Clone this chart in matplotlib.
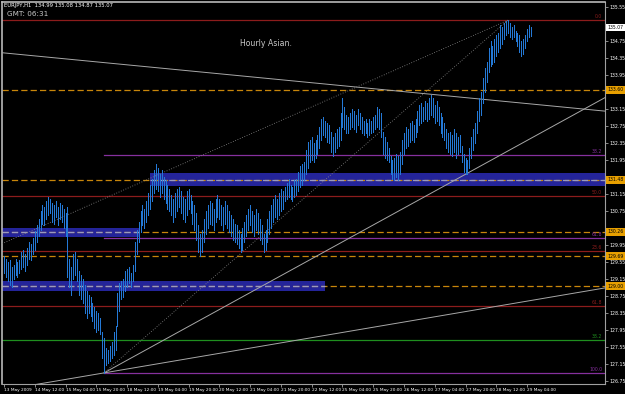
import matplotlib
matplotlib.use('Agg')
import matplotlib.pyplot as plt
from matplotlib.transforms import blended_transform_factory

# ---------------- data ----------------
header_text = "EURJPY,H1  134.99 135.08 134.87 135.07"
clock_text = "GMT: 06:31"
note_text = "Hourly Asian."

highs = [
    129.68, 129.63, 129.54, 129.59, 129.44, 129.49, 129.63, 129.54, 129.59, 129.78,
    129.83, 129.73, 129.88, 130.02, 129.97, 130.12, 130.27, 130.41, 130.55, 130.75,
    130.89, 130.84, 130.99, 131.08, 131.03, 130.94, 130.89, 130.99, 130.84, 130.94,
    130.89, 130.79, 130.70, 130.84, 129.63, 129.44, 129.73, 129.78, 129.63, 129.34,
    129.25, 129.15, 129.01, 128.87, 128.77, 128.72, 128.58, 128.48, 128.39, 128.34,
    128.24, 127.91, 127.76, 127.52, 127.47, 127.57, 127.66, 127.91, 128.05, 128.82,
    129.06, 129.11, 129.15, 129.34, 129.39, 129.44, 129.30, 129.49, 130.02, 130.31,
    130.50, 130.75, 130.89, 130.79, 130.99, 131.18, 131.37, 131.51, 131.71, 131.85,
    131.76, 131.61, 131.71, 131.56, 131.47, 131.37, 131.27, 131.13, 131.03, 131.18,
    131.27, 131.32, 131.23, 131.08, 131.03, 131.23, 131.27, 131.13, 130.99, 130.89,
    130.70, 130.41, 130.22, 130.31, 130.55, 130.75, 130.89, 130.99, 130.94, 130.79,
    131.03, 131.13, 131.03, 130.89, 130.84, 130.99, 130.89, 130.75, 130.65, 130.55,
    130.45, 130.41, 130.31, 130.22, 130.36, 130.50, 130.65, 130.79, 130.89, 130.75,
    130.65, 130.79, 130.70, 130.55, 130.41, 130.22, 130.31, 130.55, 130.75, 130.89,
    131.03, 131.13, 131.03, 131.18, 131.27, 131.23, 131.32, 131.42, 131.51, 131.37,
    131.32, 131.47, 131.51, 131.66, 131.80, 131.85, 131.90, 132.19, 132.38, 132.43,
    132.48, 132.34, 132.43, 132.53, 132.72, 132.91, 132.96, 132.87, 132.82, 132.77,
    132.62, 132.48, 132.58, 132.67, 132.72, 133.06, 133.40, 133.20, 133.01, 132.96,
    133.06, 133.15, 133.10, 133.01, 133.15, 133.06, 132.96, 132.87, 132.91, 132.82,
    132.91, 132.87, 132.96, 133.01, 133.20, 133.15, 133.06, 132.62, 132.48, 132.38,
    132.24, 132.04, 131.95, 132.00, 132.09, 132.04, 132.14, 132.43, 132.58, 132.72,
    132.67, 132.82, 132.87, 132.77, 132.91, 133.10, 133.25, 133.30, 133.20, 133.35,
    133.30, 133.40, 133.49, 133.40, 133.25, 133.35, 133.20, 133.06, 132.96, 132.82,
    132.67, 132.58, 132.62, 132.53, 132.67, 132.58, 132.48, 132.53, 132.29, 132.09,
    132.00, 131.95, 132.24, 132.48, 132.67, 132.82, 133.10, 133.40, 133.54, 133.88,
    134.11, 134.26, 134.59, 134.74, 134.64, 134.79, 134.88, 134.93, 135.12, 135.08,
    135.17, 135.22, 135.24, 135.17, 135.08, 135.12, 134.98, 134.93, 134.88, 134.74,
    134.79, 134.88, 135.03, 135.12, 135.08,
]
lows = [
    129.30, 129.20, 129.11, 129.01, 128.96, 129.15, 129.25, 129.20, 129.30, 129.39,
    129.44, 129.34, 129.49, 129.63, 129.59, 129.73, 129.83, 130.02, 130.17, 130.31,
    130.45, 130.41, 130.55, 130.65, 130.70, 130.50, 130.45, 130.60, 130.41, 130.55,
    130.50, 130.36, 130.17, 129.20, 128.96, 128.77, 129.15, 129.25, 129.11, 128.77,
    128.67, 128.58, 128.34, 128.24, 128.34, 128.29, 128.15, 128.00, 127.91, 127.95,
    127.86, 127.28, 126.94, 127.13, 127.18, 127.23, 127.28, 127.37, 127.47, 128.05,
    128.39, 128.67, 128.72, 128.87, 128.96, 129.06, 128.96, 129.11, 129.34, 129.73,
    130.02, 130.26, 130.41, 130.36, 130.50, 130.65, 130.79, 130.99, 131.18, 131.27,
    131.23, 131.08, 131.18, 131.03, 130.94, 130.79, 130.74, 130.65, 130.50, 130.60,
    130.74, 130.84, 130.70, 130.55, 130.50, 130.65, 130.79, 130.70, 130.45, 130.31,
    130.07, 129.78, 129.68, 129.78, 130.02, 130.22, 130.36, 130.45, 130.41, 130.31,
    130.50, 130.60, 130.55, 130.41, 130.31, 130.45, 130.36, 130.26, 130.17, 130.07,
    130.02, 129.97, 129.88, 129.78, 129.83, 130.02, 130.17, 130.31, 130.41, 130.26,
    130.17, 130.31, 130.22, 130.07, 129.97, 129.78, 129.83, 130.02, 130.22, 130.36,
    130.50, 130.60, 130.55, 130.65, 130.74, 130.79, 130.99, 131.03, 131.08, 131.03,
    130.99, 131.08, 131.13, 131.23, 131.32, 131.37, 131.47, 131.61, 131.76, 131.90,
    131.95, 131.90, 132.00, 132.09, 132.24, 132.43, 132.53, 132.48, 132.38, 132.34,
    132.14, 132.04, 132.14, 132.24, 132.29, 132.43, 132.72, 132.67, 132.58, 132.58,
    132.67, 132.72, 132.67, 132.62, 132.77, 132.67, 132.58, 132.53, 132.58, 132.48,
    132.53, 132.58, 132.62, 132.67, 132.72, 132.67, 132.48, 132.09, 132.00, 131.95,
    131.90, 131.61, 131.51, 131.47, 131.56, 131.47, 131.61, 131.85, 132.09, 132.24,
    132.29, 132.38, 132.43, 132.38, 132.48, 132.62, 132.77, 132.82, 132.87, 132.91,
    132.87, 132.91, 133.01, 132.96, 132.82, 132.87, 132.77, 132.58, 132.48, 132.43,
    132.24, 132.14, 132.09, 132.04, 132.14, 132.00, 132.09, 132.14, 131.90, 131.66,
    131.61, 131.61, 131.76, 132.00, 132.19, 132.34, 132.58, 132.87, 133.01, 133.30,
    133.54, 133.78, 134.02, 134.16, 134.21, 134.26, 134.40, 134.49, 134.59, 134.69,
    134.79, 134.88, 134.93, 134.84, 134.79, 134.84, 134.74, 134.64, 134.49, 134.40,
    134.45, 134.59, 134.74, 134.84, 134.87,
]

time_labels = ["13 May 2009", "14 May 12:00", "15 May 04:00", "15 May 20:00",
               "18 May 12:00", "19 May 04:00", "19 May 20:00", "20 May 12:00",
               "21 May 04:00", "21 May 20:00", "22 May 12:00", "25 May 04:00",
               "25 May 20:00", "26 May 12:00", "27 May 04:00", "27 May 20:00",
               "28 May 12:00", "29 May 04:00"]
bars_per_label = 16

price_ticks = [135.55, 135.15, 134.75, 134.35, 133.95, 133.55, 133.15, 132.75,
               132.35, 131.95, 131.55, 131.15, 130.75, 130.35, 129.95, 129.55,
               129.15, 128.75, 128.35, 127.95, 127.55, 127.15, 126.75]

# fibonacci-type level lines: price, colour, first bar, label
fib_prices = [135.24, 132.07, 131.10, 130.11, 129.81, 128.51, 127.71, 126.94]
fib_colors = ["#8c1c1c", "#86309e", "#8c1c1c", "#86309e", "#8c1c1c", "#8c1c1c",
              "#1f8f1f", "#86309e"]
fib_start = [None, 52, None, 52, None, None, None, 52]
fib_labels = ["0.0", "38.2", "50.0", "61.8", "23.6", "61.8", "38.2", "100.0"]

# dashed support / resistance lines and their price boxes
sr_prices = [133.60, 131.48, 130.26, 129.69, 128.98]
sr_box_text = ["133.60", "131.48", "130.26", "129.69", "129.00"]

# zones: low, high, first bar, last bar
zone_low = [131.34, 130.14, 128.87]
zone_high = [131.64, 130.35, 129.10]
zone_first = [76, None, None]
zone_last = [None, 70, 167]

last_price = 135.07

# trend lines: two anchors (bar, price)
trend_a_bar = [0, 312.5]
trend_a_price = [134.47, 133.10]
trend_c_bar = [52, 241]
trend_c_price = [126.94, 131.64]
trend_d_bar = [52, 312.5]
trend_d_price = [126.94, 128.94]
dot_a_bar = [0, 262]
dot_a_price = [130.00, 135.24]
dot_b_bar = [52, 262]
dot_b_price = [126.94, 135.24]

# ---------------- figure ----------------
W, H = 625, 394
fig = plt.figure(figsize=(W / 100, H / 100), dpi=100, facecolor="black")
ax_left, ax_right, ax_top, ax_bot = 2, 605, 2, 384
ax = fig.add_axes([ax_left / W, 1 - ax_bot / H, (ax_right - ax_left) / W, (ax_bot - ax_top) / H])
ax.set_facecolor("black")

n = len(highs)
idx = list(range(n))
x0, x1 = -1.04, 312.5
y0, y1 = 126.679, 135.668
ax.set_xlim(x0, x1)
ax.set_ylim(y0, y1)


def line_through(bars, prices, left=None, right=None):
    slope = (prices[1] - prices[0]) / (bars[1] - bars[0])
    a = bars[0] if left is None else left
    b = bars[1] if right is None else right
    return [a, b], [prices[0] + slope * (a - bars[0]), prices[0] + slope * (b - bars[0])]


# zones
for lo, hi, f, l in zip(zone_low, zone_high, zone_first, zone_last):
    a = x0 if f is None else f
    b = x1 if l is None else l
    ax.fill_between([a, b], [lo, lo], [hi, hi], color="#24249a", lw=0, zorder=1)

# dashed s/r lines
for p in sr_prices:
    ax.plot([x0, x1], [p, p], color="#c8860a", lw=0.9, dashes=(5, 2.5), zorder=2)
for lo, hi, f, l in zip(zone_low, zone_high, zone_first, zone_last):
    a = x0 if f is None else f
    b = x1 if l is None else l
    mid = (lo + hi) / 2
    ax.plot([a, b], [mid, mid], color="#9a9ac0", lw=0.9, dashes=(5, 2.5), zorder=2.5)

# fib levels
for p, c, s, lab in zip(fib_prices, fib_colors, fib_start, fib_labels):
    a = x0 if s is None else s
    ax.plot([a, x1], [p, p], color=c, lw=0.9, zorder=2)
    ax.text(x1 - 1.5, p + 0.02, lab, color=c, fontsize=3.3, ha="right", va="bottom", zorder=6)

# trend lines
xs, ys = line_through(trend_a_bar, trend_a_price, x0, x1)
ax.plot(xs, ys, color="#a8a8a8", lw=0.7, zorder=3)
xs, ys = line_through(trend_c_bar, trend_c_price, None, x1)
ax.plot(xs, ys, color="#a8a8a8", lw=0.7, zorder=3)
xs, ys = line_through(trend_d_bar, trend_d_price, x0, x1)
ax.plot(xs, ys, color="#a8a8a8", lw=0.7, zorder=3)
xs, ys = line_through(dot_a_bar, dot_a_price, x0, None)
ax.plot(xs, ys, color="#8a8a8a", lw=0.6, dashes=(1, 2), zorder=3)
xs, ys = line_through(dot_b_bar, dot_b_price)
ax.plot(xs, ys, color="#8a8a8a", lw=0.6, dashes=(1, 2), zorder=3)

# price bars
ax.vlines(idx, lows, highs, color="#2479d6", lw=0.55, zorder=4, antialiased=False)

# axes styling
for side in ["left", "top"]:
    ax.spines[side].set_color("#b8b8b8")
    ax.spines[side].set_linewidth(1.2)
for side in ["right", "bottom"]:
    ax.spines[side].set_color("#a0a0a0")
    ax.spines[side].set_linewidth(0.8)

# tick labels hidden where a price box covers them (as on the terminal)
box_prices = sr_prices + [last_price]
ylabels = []
for p in price_ticks:
    covered = any(abs(p - b) < 0.12 for b in box_prices)
    ylabels.append("" if covered else f"{p:.2f}")

ax.yaxis.tick_right()
ax.set_yticks(price_ticks)
ax.set_yticklabels(ylabels)
ax.tick_params(axis="y", colors="#a0a0a0", labelcolor="white", labelsize=3.3,
               length=2.0, width=0.6, pad=1.2)
ax.set_xticks([k * bars_per_label for k in range(len(time_labels))])
ax.set_xticklabels(time_labels, ha="left")
ax.tick_params(axis="x", colors="#a0a0a0", labelcolor="white", labelsize=3.1,
               length=2.0, width=0.6, pad=1.2)

# price boxes on the axis
tr = blended_transform_factory(ax.transAxes, ax.transData)
for p, t in zip(sr_prices, sr_box_text):
    ax.text(1.0045, p, t, transform=tr, fontsize=3.3, color="black", va="center", ha="left",
            bbox=dict(facecolor="#e8a000", edgecolor="none", pad=1.0), clip_on=False, zorder=10)
ax.text(1.0045, last_price, f"{last_price:.2f}", transform=tr, fontsize=3.3, color="black",
        va="center", ha="left", bbox=dict(facecolor="white", edgecolor="none", pad=1.0),
        clip_on=False, zorder=10)

# texts
fig.text(4 / W, 1 - 5 / H, header_text, color="white", fontsize=3.8, ha="left", va="center")
fig.text(7 / W, 1 - 14.5 / H, clock_text, color="#c8c8c8", fontsize=5.2, ha="left", va="center")
fig.text(240 / W, 1 - 43 / H, note_text, color="#c8c8c8", fontsize=5.6, ha="left", va="center")

fig.savefig("out.png", dpi=100, facecolor="black")
